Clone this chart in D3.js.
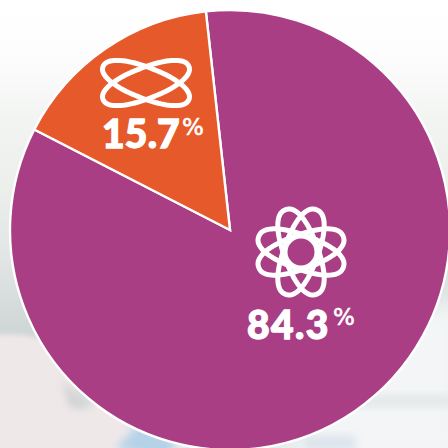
<!DOCTYPE html>
<html><head><meta charset="utf-8">
<script src="https://cdn.jsdelivr.net/npm/d3@7/dist/d3.min.js"></script>
<style>html,body{margin:0;padding:0;background:#fff;overflow:hidden}svg{display:block}</style>
</head><body><div id="chart"></div>
<script>
const categories = ["Purple atom", "Orange atom"];
const values = [84.3, 15.7];
const colors = ["#a93e85", "#e5592a"];
const W = 448, H = 448, cx = 230, cy = 230, R = 220;
const startDeg = -6.3;
const rad = d => d * Math.PI / 180;

const svg = d3.select("#chart").append("svg").attr("width", W).attr("height", H);
const defs = svg.append("defs");
const blur = (id, s) => defs.append("filter").attr("id", id)
  .attr("x", "-40%").attr("y", "-40%").attr("width", "180%").attr("height", "180%")
  .append("feGaussianBlur").attr("stdDeviation", s);
blur("b12", 12); blur("b5", 4); blur("b2", 2.5);

const bgGrad = defs.append("linearGradient").attr("id", "bg").attr("x1", 0).attr("x2", 0).attr("y1", 0).attr("y2", 1);
[[0, "#ffffff"], [0.12, "#fdfdfd"], [0.27, "#f2f4f2"], [0.42, "#ecefeb"], [0.6, "#dfe4e3"], [0.74, "#cfd6d6"], [0.85, "#d5dcdd"], [1, "#e6ebee"]]
  .forEach(([o, c]) => bgGrad.append("stop").attr("offset", o).attr("stop-color", c));

const bg = svg.append("g");
bg.append("rect").attr("width", W).attr("height", H).attr("fill", "url(#bg)");
bg.append("rect").attr("x", 300).attr("y", 300).attr("width", 170).attr("height", 170)
  .attr("fill", "#f3f5f6").attr("filter", "url(#b12)");
bg.append("rect").attr("x", 330).attr("y", 395).attr("width", 130).attr("height", 12)
  .attr("fill", "#e4e8e9").attr("filter", "url(#b5)");
bg.append("path").attr("d", "M-20 338 C10 332 30 335 50 342 C65 350 75 380 80 405 L110 405 C125 420 130 430 135 448 L135 470 L-20 470 Z")
  .attr("fill", "#efe8e9").attr("filter", "url(#b2)");
bg.append("path").attr("d", "M62 380 L92 408 L70 408 Z").attr("fill", "#cfd1d2").attr("filter", "url(#b5)");
bg.append("path").attr("d", "M115 448 L140 425 L175 440 L170 460 Z").attr("fill", "#b5d2e8").attr("filter", "url(#b5)");
bg.append("rect").attr("x", 305).attr("y", 436).attr("width", 50).attr("height", 14).attr("fill", "#dbe3ec").attr("filter", "url(#b5)");

const pie = d3.pie().sort(null).startAngle(rad(startDeg)).endAngle(rad(startDeg + 360));
const arc = d3.arc().innerRadius(0).outerRadius(R);
svg.append("g").attr("transform", `translate(${cx},${cy})`)
  .selectAll("path").data(pie(values)).join("path")
  .attr("d", arc)
  .attr("fill", (d, i) => colors[i])
  .attr("stroke", "#fff").attr("stroke-width", 2.4);

// Icons: rounded orbit outlines
const orbit = (rx, ry, n) => d3.line().curve(d3.curveLinearClosed)(d3.range(0, 360, 4).map(a => {
  const c = Math.cos(rad(a)), s = Math.sin(rad(a));
  return [rx * Math.sign(c) * Math.pow(Math.abs(c), 2 / n), ry * Math.sign(s) * Math.pow(Math.abs(s), 2 / n)];
}));
const icon = (x, y, rx, ry, n, angles, sw) => {
  const g = svg.append("g").attr("transform", `translate(${x},${y})`)
    .attr("fill", "none").attr("stroke", "#fff").attr("stroke-width", sw);
  g.selectAll("path").data(angles).join("path")
    .attr("d", orbit(rx, ry, n)).attr("transform", a => `rotate(${a})`);
  return g;
};
icon(146, 83, 46, 15.5, 2.2, [21, -21], 5);
icon(301, 252, 45, 17, 2.3, [20, -20, 70, -70], 5)
  .append("circle").attr("r", 15.5).attr("stroke-width", 4);

// Labels
const label = (v, x, y, ls, px, py) => {
  svg.append("text").attr("x", x).attr("y", y)
    .attr("font-family", "Lato,sans-serif").attr("font-weight", 900).attr("font-size", 39)
    .attr("letter-spacing", ls).attr("fill", "#fff")
    .attr("stroke", "#fff").attr("stroke-width", 1.3).text(v.toFixed(1));
  svg.append("text").attr("x", px).attr("y", py)
    .attr("font-family", "'DejaVu Sans',sans-serif").attr("font-weight", 400).attr("font-size", 23)
    .attr("fill", "#fff").attr("stroke", "#fff").attr("stroke-width", 0.6).text("%");
};
label(values[0], 247, 339, 1.4, 333, 325);
label(values[1], 102, 148, 0.2, 182, 135);
</script></body></html>
